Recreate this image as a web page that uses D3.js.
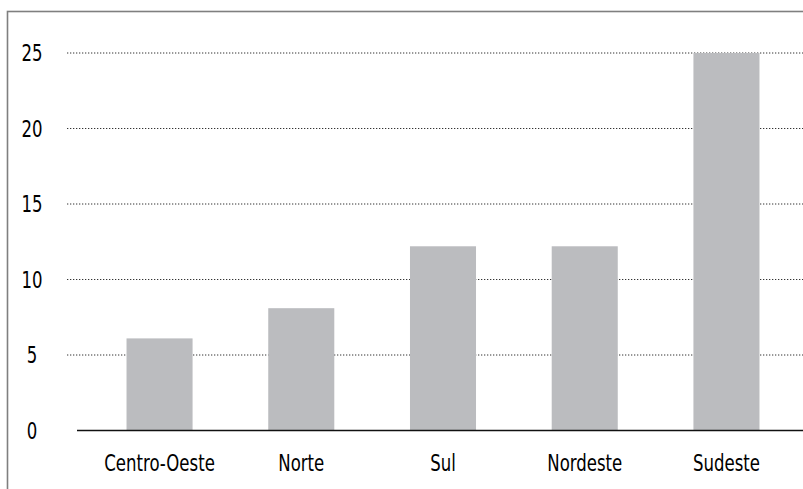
<!DOCTYPE html>
<html>
<head>
<meta charset="utf-8">
<script src="https://cdn.jsdelivr.net/npm/d3@7"></script>
<style>
  body { margin: 0; background: #fff; }
  svg text { font-family: "Liberation Sans Narrow", "DejaVu Sans Condensed", sans-serif; fill: #000; }
</style>
</head>
<body>
<div id="chart"></div>
<script>
// data
var regions = ["Centro-Oeste", "Norte", "Sul", "Nordeste", "Sudeste"];
var values = [6.1, 8.1, 12.2, 12.2, 25.0];
var yTicks = [0, 5, 10, 15, 20, 25];

var width = 803, height = 489;
var squish = 0.8; // no condensed font here, so narrow the glyphs by hand

var svg = d3.select("#chart").append("svg")
    .attr("width", width)
    .attr("height", height);

// frame (right and bottom run past the window)
svg.append("rect")
    .attr("x", 7.5).attr("y", 11.5)
    .attr("width", 820).attr("height", 500)
    .attr("fill", "none")
    .attr("stroke", "#7f7f7f")
    .attr("stroke-width", 1.6);

var y = d3.scaleLinear().domain([0, 25]).range([430.5, 53]);

var x = d3.scaleBand()
    .domain(regions)
    .range([67, 819])
    .paddingInner(0.534)
    .paddingOuter(0.42);

// dotted grid
svg.selectAll(".grid")
    .data(yTicks.filter(function(d){ return d > 0; }))
    .enter().append("line")
    .attr("class", "grid")
    .attr("x1", 67).attr("x2", width)
    .attr("y1", function(d){ return y(d); })
    .attr("y2", function(d){ return y(d); })
    .attr("stroke", "#333")
    .attr("stroke-width", 1)
    .attr("stroke-dasharray", "1.3,1.7");

// y labels
svg.selectAll(".ylab")
    .data(yTicks)
    .enter().append("text")
    .attr("class", "ylab")
    .attr("transform", function(d){ return "translate(32," + y(d) + ") scale(" + squish + ",1)"; })
    .attr("dy", "0.36em")
    .attr("text-anchor", "middle")
    .style("font-size", "23px")
    .text(function(d){ return d; });

// bars
svg.selectAll(".bar")
    .data(values)
    .enter().append("rect")
    .attr("class", "bar")
    .attr("x", function(d, i){ return x(regions[i]); })
    .attr("width", x.bandwidth())
    .attr("y", function(d){ return y(d); })
    .attr("height", function(d){ return y(0) - y(d); })
    .attr("fill", "#bbbcbf");

// baseline
svg.append("line")
    .attr("x1", 77).attr("x2", width)
    .attr("y1", y(0)).attr("y2", y(0))
    .attr("stroke", "#111")
    .attr("stroke-width", 1.5);

// category labels
svg.selectAll(".xlab")
    .data(regions)
    .enter().append("text")
    .attr("class", "xlab")
    .attr("transform", function(d){ return "translate(" + (x(d) + x.bandwidth() / 2) + ",471) scale(" + squish + ",1)"; })
    .attr("text-anchor", "middle")
    .style("font-size", "23px")
    .text(function(d){ return d; });
</script>
</body>
</html>
